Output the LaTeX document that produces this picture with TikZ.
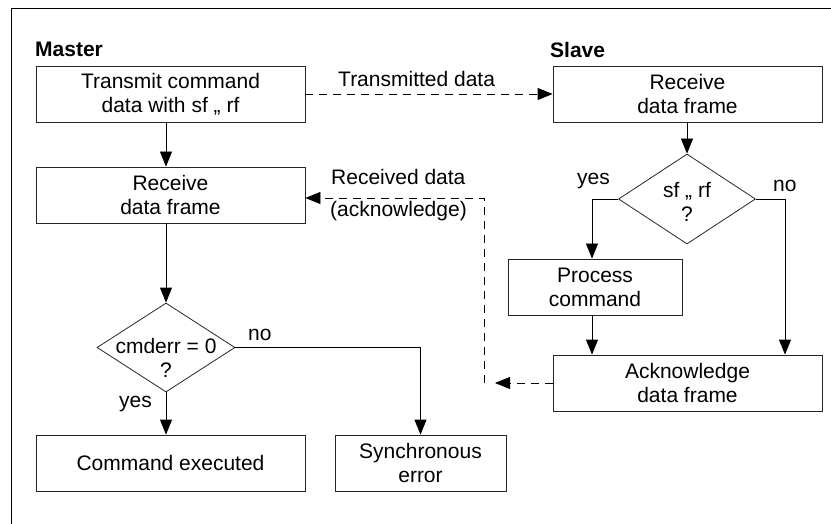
\documentclass[tikz,border=0pt]{standalone}
\usepackage{fontspec}
\setmainfont{Liberation Sans}
\usetikzlibrary{shapes.geometric,arrows.meta}
\begin{document}
\begin{tikzpicture}[x=1pt,y=-1pt,
  font=\fontsize{21}{24}\selectfont,
  box/.style={draw=black!85, line width=0.8pt, minimum width=269pt, minimum height=56pt, inner sep=0pt, align=center},
  dia/.style={draw=black!85, line width=0.8pt, diamond, minimum width=138pt, minimum height=89pt, inner sep=0pt},
  arr/.style={line width=0.8pt, -{Triangle[length=15pt,width=12pt]}},
  darr/.style={line width=0.8pt, dash pattern=on 8pt off 6pt, -{Triangle[length=15pt,width=12pt]}},
  dsh/.style={line width=0.8pt, dash pattern=on 8pt off 6pt},
  lbl/.style={inner sep=0pt, anchor=base west},
  dtext/.style={inner sep=0pt, align=center}]
\useasboundingbox (0,0) rectangle (831,524);
% frame
\draw[line width=1pt] (11,524) -- (11,9) -- (831,9);
% titles
\node[lbl, font=\fontsize{21}{24}\selectfont\bfseries] (master) at (35,57) {Master};
\node[lbl, font=\fontsize{21}{24}\selectfont\bfseries] (slave) at (550,58) {Slave};
% master column
\node[box] (tx) at (170.5,94) {Transmit command\\data with sf „ rf};
\node[box] (mr) at (170.5,195) {Receive\\data frame};
\node[dia] (d2) at (166,347.5) {};
\node[dtext] (d2t) at (166,358) {cmderr = 0\\?};
\node[box] (ce) at (170.5,463) {Command executed};
\node[box, minimum width=171pt] (se) at (420.5,463) {Synchronous\\error};
% slave column
\node[box] (sr) at (687.5,94) {Receive\\data frame};
\node[dia, minimum width=137pt, minimum height=90pt] (d1) at (687,199) {};
\node[dtext] (d1t) at (687,202) {sf „ rf\\?};
\node[box, minimum width=174pt] (pr) at (595,287) {Process\\command};
\node[box] (ack) at (687.5,383) {Acknowledge\\data frame};
% helper coordinates
\coordinate (pc) at (592,0);
\coordinate (nc) at (785,0);
\coordinate (at1) at (495,383);
\coordinate (v1) at (484,383);
\coordinate (v2) at (484,198);
% master connectors
\draw[arr] (tx.south -| d2) -- (mr.north -| d2);
\draw[arr] (mr.south -| d2) -- (d2.north);
\draw[arr] (d2.south) -- (ce.north -| d2);
\draw[arr] (d2.east) -| (se.north);
% slave connectors
\draw[arr] (sr.south -| d1) -- (d1.north);
\draw[arr] (d1.west) -| (pr.north -| pc);
\draw[arr] (d1.east) -| (ack.north -| nc);
\draw[arr] (pr.south -| pc) -- (ack.north -| pc);
% data connectors
\draw[darr] (tx.east) -- (sr.west);
\draw[darr] (ack.west) -- (at1);
\draw[darr] (v1) -- (v2) -- (mr.east |- v2);
% labels
\node[lbl] (ltx) at (338,87) {Transmitted data};
\node[lbl] (lrx) at (331,185) {Received data};
\node[lbl] (lack) at (330,217) {(acknowledge)};
\node[lbl] (y1) at (577,185) {yes};
\node[lbl] (n1) at (773,192) {no};
\node[lbl] (n2) at (248,340) {no};
\node[lbl] (y2) at (119,407) {yes};
\end{tikzpicture}
\end{document}
